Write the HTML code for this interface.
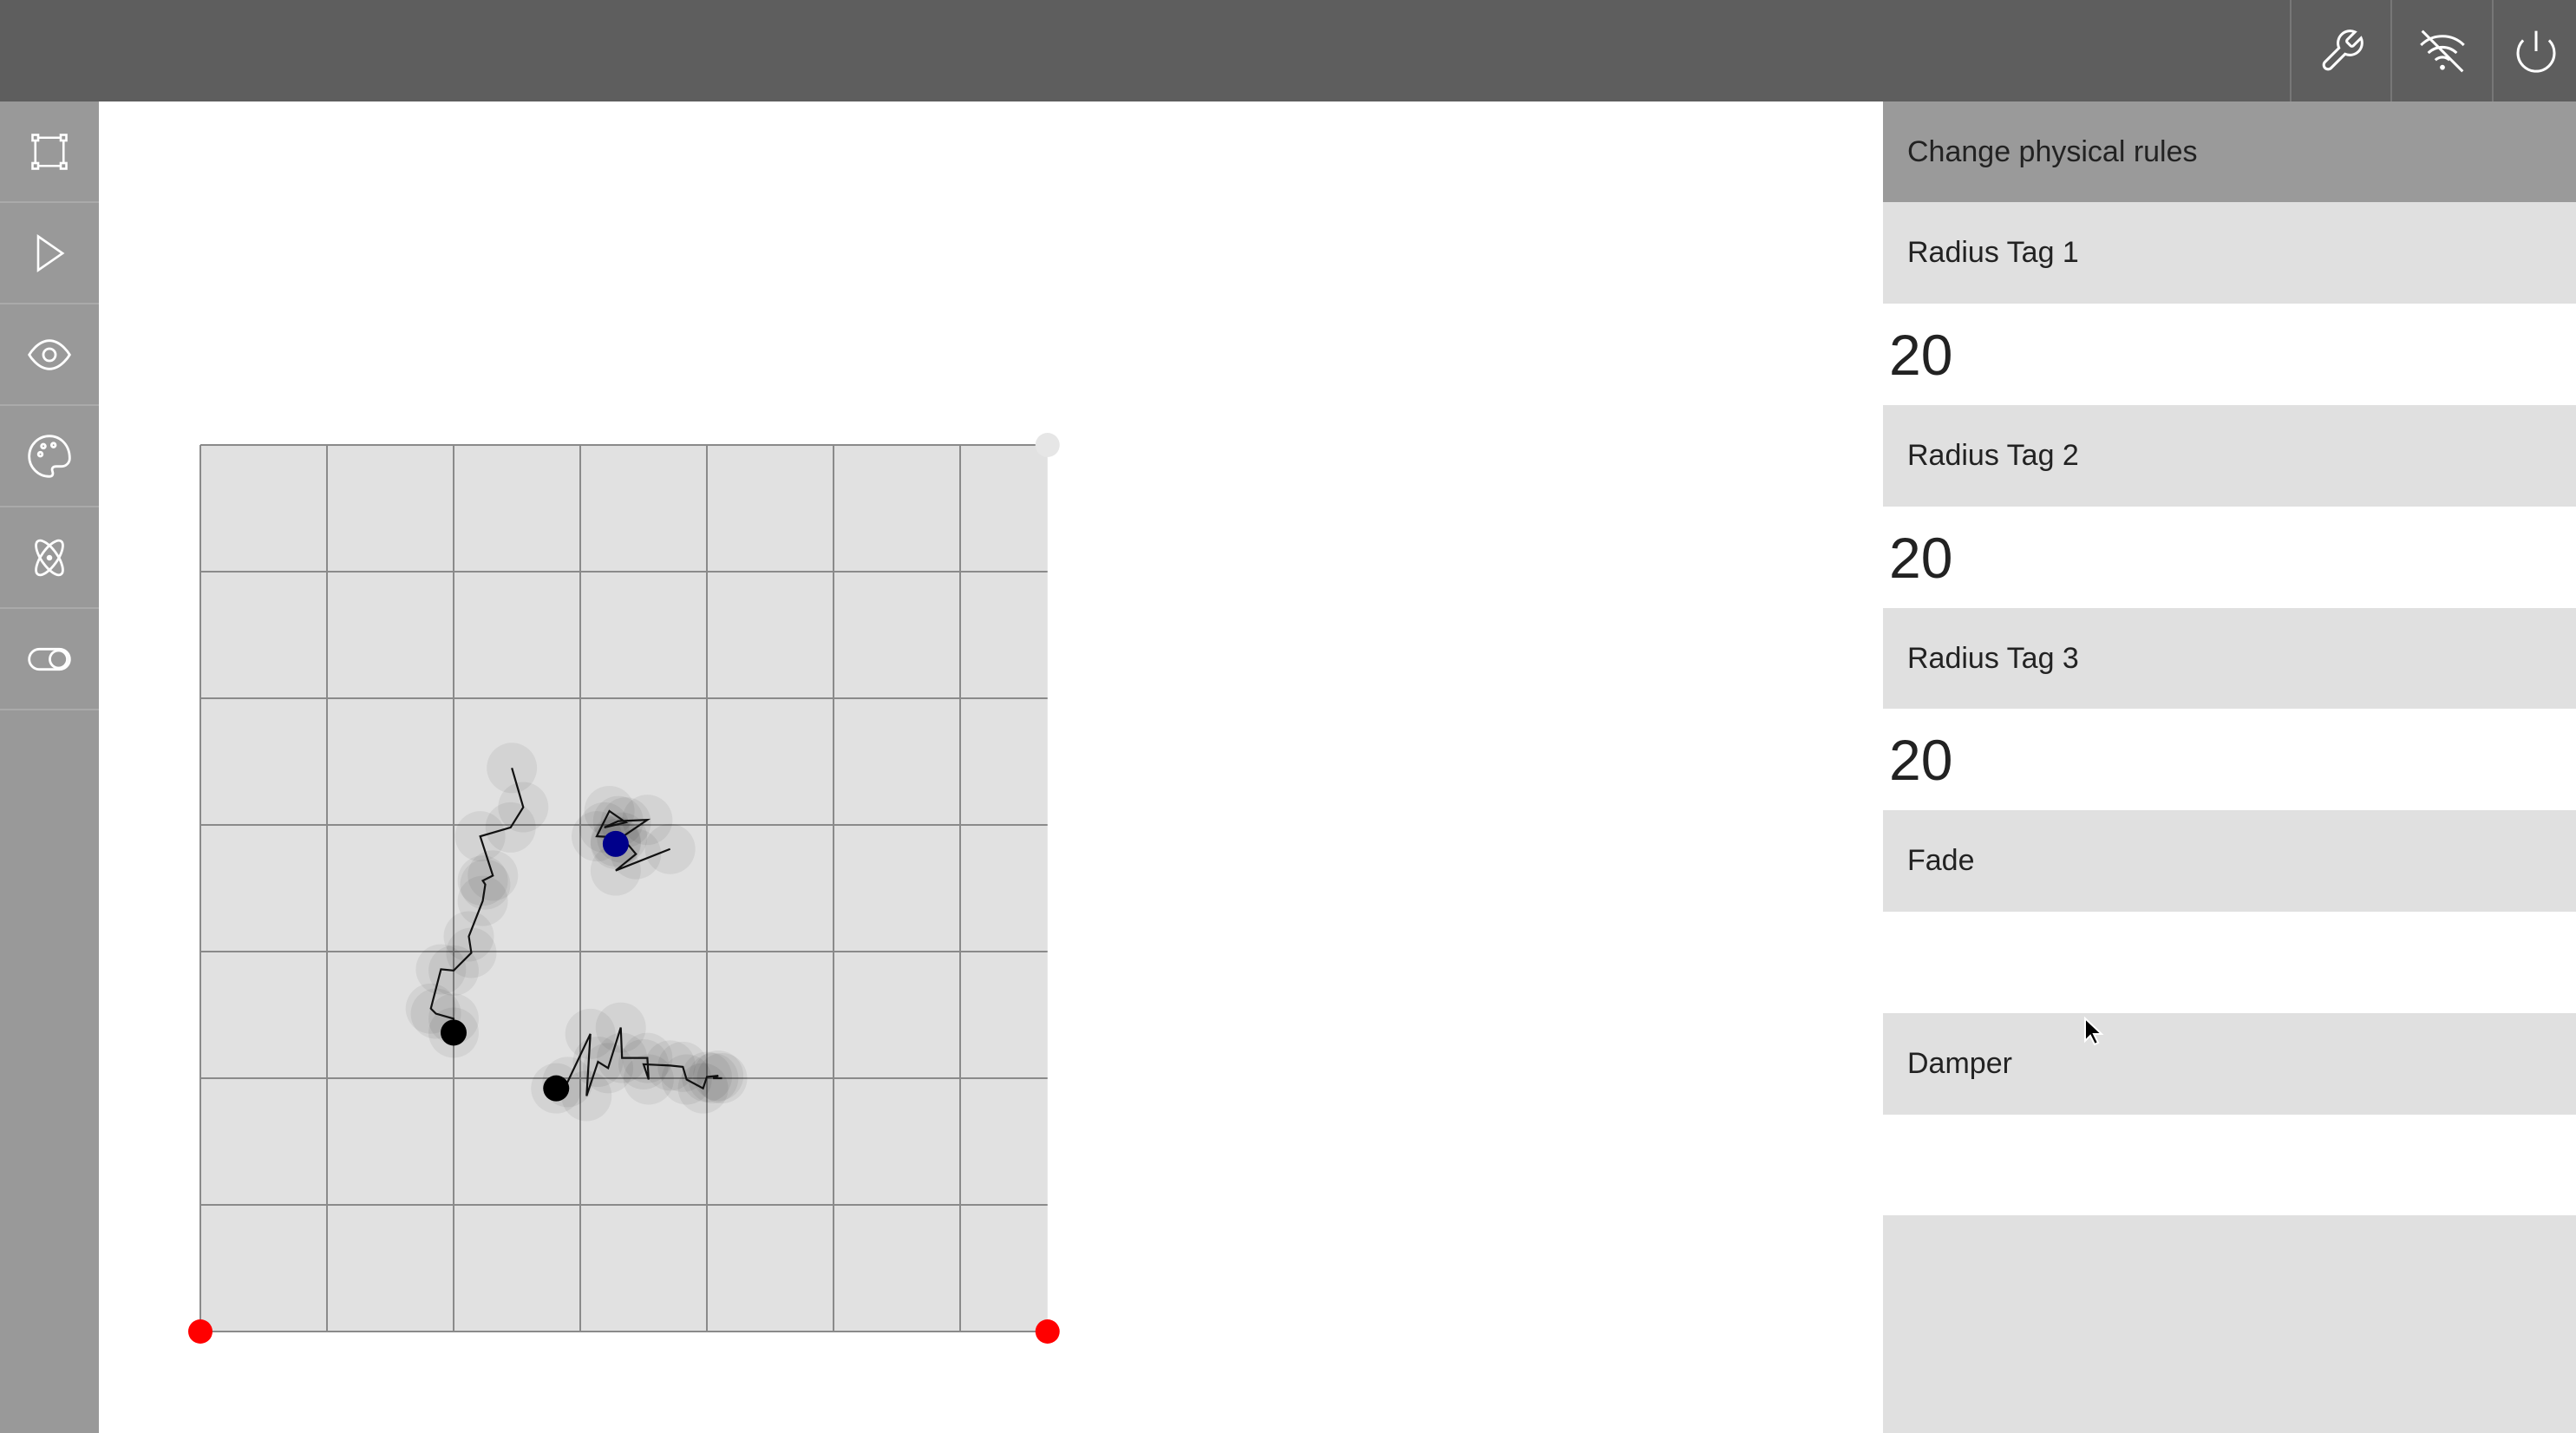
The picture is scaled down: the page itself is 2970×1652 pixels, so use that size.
<!DOCTYPE html>
<html><head><meta charset="utf-8"><style>
html,body{margin:0;padding:0;width:2970px;height:1652px;overflow:hidden;background:#fff;font-family:"Liberation Sans",sans-serif}
#top{position:absolute;left:0;top:0;width:2970px;height:117px;background:#5e5e5e}
.tb{position:absolute;top:0;width:116px;height:117px;border-left:2px solid #777;display:flex;align-items:center;justify-content:center}
#side{position:absolute;left:0;top:117px;width:114px;height:1535px;background:#999}
.sb{width:114px;height:115px;border-bottom:2px solid #aaa;display:flex;align-items:center;justify-content:center}
#panel{position:absolute;left:2171px;top:117px;width:799px;height:1535px}
.row{position:absolute;left:0;width:799px;height:117px;display:flex;align-items:center;box-sizing:border-box}
.lab{background:#e0e0e0;padding-left:28px;font-size:34px;color:#222}
.val{background:#fff;padding-left:7px;font-size:66px;color:#222}
</style></head><body>
<div id="top">
 <div class="tb" style="left:2640px"><svg width="56" height="56" viewBox="0 0 24 24" fill="none" stroke="#fff" stroke-width="1.3"><path d="M14.7 6.3a1 1 0 000 1.4l1.6 1.6a1 1 0 001.4 0l3.8-3.8a6 6 0 01-7.9 7.9l-6.9 6.9a2.1 2.1 0 01-3-3l6.9-6.9a6 6 0 017.9-7.9z"/></svg></div>
 <div class="tb" style="left:2756px"><svg width="56" height="56" viewBox="0 0 24 24" fill="none" stroke="#fff" stroke-width="1.3"><path d="M2 2l20 20M8.5 16.4a5 5 0 017 0M5 12.9a10 10 0 0114 0M1.4 9a15 15 0 0121.2 0"/><circle cx="12" cy="20" r=".6" fill="#fff"/></svg></div>
 <div class="tb" style="left:2873px;width:97px"><svg width="56" height="56" viewBox="0 0 24 24" fill="none" stroke="#fff" stroke-width="1.3"><path d="M18.4 6.6a9 9 0 11-12.8 0M12 2v10"/></svg></div>
</div>
<div id="side">
 <div class="sb"><svg width="52" height="52" viewBox="0 0 24 24" fill="none" stroke="#fff" stroke-width="1.2"><rect x="3" y="3" width="3" height="3"/><rect x="18" y="3" width="3" height="3"/><rect x="3" y="18" width="3" height="3"/><rect x="18" y="18" width="3" height="3"/><path d="M6 4.5h12M6 19.5h12M4.5 6v12M19.5 6v12"/></svg></div>
 <div class="sb"><svg width="52" height="52" viewBox="0 0 24 24" fill="none" stroke="#fff" stroke-width="1.2"><path d="M6 3l13 9-13 9z"/></svg></div>
 <div class="sb"><svg width="56" height="56" viewBox="0 0 24 24" fill="none" stroke="#fff" stroke-width="1.2"><path d="M2 12s4-7 10-7 10 7 10 7-4 7-10 7S2 12 2 12z"/><circle cx="12" cy="12" r="3"/></svg></div>
 <div class="sb"><svg width="56" height="56" viewBox="0 0 24 24" fill="none" stroke="#fff" stroke-width="1.2"><path d="M12 2a10 10 0 000 20c1.5 0 2-1 1.5-2.5s0-2.5 2-2.5H18a4 4 0 004-4C22 6.5 17.5 2 12 2z"/><circle cx="7.5" cy="11" r="1"/><circle cx="9" cy="7" r="1"/><circle cx="14" cy="6.5" r="1"/></svg></div>
 <div class="sb"><svg width="56" height="56" viewBox="0 0 24 24" fill="none" stroke="#fff" stroke-width="1.2"><ellipse cx="12" cy="12" rx="4" ry="10" transform="rotate(35 12 12)"/><ellipse cx="12" cy="12" rx="4" ry="10" transform="rotate(-35 12 12)"/><circle cx="12" cy="12" r=".8" fill="#fff"/></svg></div>
 <div class="sb"><svg width="56" height="56" viewBox="0 0 24 24" fill="none" stroke="#fff" stroke-width="1.2"><rect x="2" y="7" width="20" height="10" rx="5"/><circle cx="16.5" cy="12" r="4.3"/></svg></div>
</div>
<svg id="chart" width="2970" height="1652" style="position:absolute;left:0;top:0;pointer-events:none"></svg>
<div id="panel">
 <div class="row lab" style="top:0;background:#9a9a9a">Change physical rules</div>
 <div class="row lab" style="top:116px">Radius Tag 1</div>
 <div class="row val" style="top:233px">20</div>
 <div class="row lab" style="top:350px">Radius Tag 2</div>
 <div class="row val" style="top:467px">20</div>
 <div class="row lab" style="top:584px">Radius Tag 3</div>
 <div class="row val" style="top:700px">20</div>
 <div class="row lab" style="top:817px">Fade</div>
 <div class="row val" style="top:934px"></div>
 <div class="row lab" style="top:1051px">Damper</div>
 <div class="row val" style="top:1168px"></div>
 <div class="row lab" style="top:1284px;height:251px"></div>
</div>
<svg width="30" height="40" style="position:absolute;left:2402px;top:1172px"><path d="M2 2v26l6-6 5 10 4-2-5-10h9z" fill="#000" stroke="#fff" stroke-width="2"/></svg>
<script>
const gridCols = 6.69, gridRows = 7;
const trail1X = [2.00,2.00,1.86,1.82,1.90,2.00,2.14,2.12,2.23,2.25,2.23,2.31,2.21,2.45,2.55,2.46];
const trail1Y = [4.64,4.53,4.49,4.45,4.14,4.15,4.01,3.88,3.60,3.47,3.44,3.40,3.09,3.02,2.86,2.55];
const trail2X = [3.28,3.28,3.53,3.30,3.19,3.36,3.23,3.13,3.33,3.44,3.28,3.71];
const trail2Y = [3.15,3.13,2.96,2.97,3.02,2.98,2.89,3.09,3.10,3.23,3.36,3.19];
const trail3X = [2.81,2.90,3.08,3.05,3.14,3.22,3.32,3.33,3.53,3.54,3.50,3.71,3.81,3.84,3.97,4.00,4.09,4.05,4.12];
const trail3Y = [5.08,5.03,4.65,5.14,4.87,4.92,4.60,4.84,4.84,5.01,4.89,4.90,4.91,5.01,5.08,4.99,4.98,5.00,5.00];
const tagColors = ['#000','#00008b','#000'];
const X0=231,Y0=513,CELL=146;
const sx=v=>X0+v*CELL, sy=v=>Y0+v*CELL;
const svg=document.getElementById('chart'),NS='http://www.w3.org/2000/svg';
function mk(t,a){const e=document.createElementNS(NS,t);for(const k in a)e.setAttribute(k,a[k]);svg.appendChild(e);return e;}
const bg=mk('rect',{x:sx(0),y:sy(0),width:gridCols*CELL,height:gridRows*CELL,fill:'#e1e1e1'});


for(let i=0;i<=Math.floor(gridCols);i++){const l=mk('line',{x1:sx(i),x2:sx(i),y1:sy(0),y2:sy(gridRows),stroke:'#8a8a8a','stroke-width':2});

}
for(let j=0;j<=gridRows;j++){const l=mk('line',{x1:sx(0),x2:sx(gridCols),y1:sy(j),y2:sy(j),stroke:'#8a8a8a','stroke-width':2});

}
[[trail1X,trail1Y],[trail2X,trail2Y],[trail3X,trail3Y]].forEach((t,k)=>{
 const [xs,ys]=t;
 xs.forEach((x,i)=>{const h=mk('circle',{cx:sx(x),cy:sy(ys[i]),r:29,fill:'rgba(0,0,0,0.06)'});
 
 });
 const p=mk('polyline',{points:xs.map((x,i)=>sx(x)+','+sy(ys[i])).join(' '),fill:'none',stroke:'#111','stroke-width':2.2});
 
 
 const d=mk('circle',{cx:sx(xs[0]),cy:sy(ys[0]),r:15,fill:tagColors[k]});
 
 
});
const c1=mk('circle',{cx:sx(gridCols),cy:sy(0),r:14,fill:'#e6e6e6'});


const c2=mk('circle',{cx:sx(0),cy:sy(gridRows),r:14,fill:'#f00'});


const c3=mk('circle',{cx:sx(gridCols),cy:sy(gridRows),r:14,fill:'#f00'});


</script>
</body></html>
